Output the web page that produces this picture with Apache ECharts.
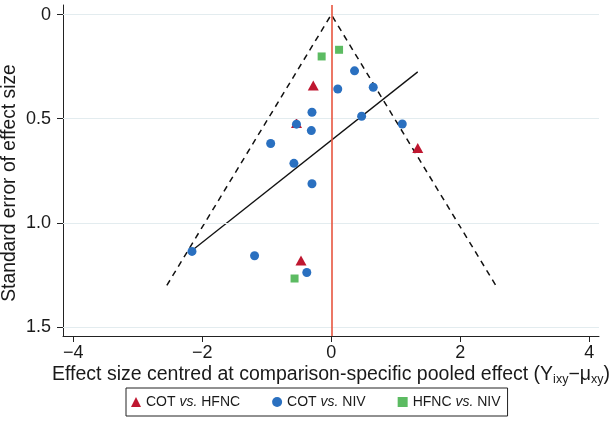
<!DOCTYPE html>
<html>
<head>
<meta charset="utf-8">
<script src="https://cdn.jsdelivr.net/npm/echarts@6/dist/echarts.min.js"></script>
<style>
html,body{margin:0;padding:0;background:#fff;}
#c{width:613px;height:421px;}
</style>
</head>
<body>
<div id="c"></div>
<script>
// ---- data ----
const xTicks = [-4, -2, 0, 2, 4];
const yTicks = [0, 0.5, 1.0, 1.5];
const seriesNames = ['COT vs. HFNC', 'COT vs. NIV', 'HFNC vs. NIV'];
const cotHfncX = [-0.54, -0.28, 1.34, -0.47];
const cotHfncY = [0.52, 0.34, 0.64, 1.18];
const cotNivX = [-0.54, -0.94, -0.58, 0.36, 0.10, 0.65, -0.30, 0.47, 1.10, -0.31, -0.30, -2.16, -1.19, -0.38];
const cotNivY = [0.526, 0.619, 0.714, 0.270, 0.357, 0.349, 0.469, 0.488, 0.525, 0.557, 0.812, 1.137, 1.158, 1.238];
const hfncNivX = [-0.15, 0.12, -0.57];
const hfncNivY = [0.201, 0.169, 1.267];
const funnelX = [-2.55, 0, 2.55];
const funnelY = [1.30, 0, 1.30];
const regX = [-2.16, 1.34];
const regY = [1.132, 0.275];
const refX = 0;

const FONT = "'Liberation Sans', Arial, Helvetica, sans-serif";
const zip = (xs, ys) => xs.map((x, i) => [x, ys[i]]);

const chart = echarts.init(document.getElementById('c'), null, {renderer: 'canvas'});
chart.setOption({
  animation: false,
  backgroundColor: '#fff',
  grid: {left: 63, right: 11, top: 5, bottom: 85, containLabel: false},
  xAxis: {
    type: 'value', min: -4.16, max: 4.15,
    axisLine: {show: true, onZero: false, lineStyle: {color: '#222', width: 1}},
    axisTick: {show: true, customValues: xTicks, length: 6, lineStyle: {color: '#222'}},
    axisLabel: {customValues: xTicks, fontSize: 18, color: '#1a1a1a', fontFamily: FONT, margin: 8,
      formatter: v => (v < 0 ? '\u2212' + Math.abs(v) : String(v))},
    splitLine: {show: false},
    name: 'Effect size centred at comparison-specific pooled effect (Y{s|ixy}\u2212\u03bc{s|xy})',
    nameLocation: 'middle', nameGap: 28, nameMoveOverlap: false,
    nameTextStyle: {fontSize: 19.5, color: '#1a1a1a', fontFamily: FONT, lineHeight: 22,
      rich: {s: {fontSize: 12.5, fontFamily: FONT, color: '#1a1a1a', verticalAlign: 'bottom', lineHeight: 22, padding: [7, 0, 0, 0]}}}
  },
  yAxis: {
    type: 'value', inverse: true, min: -0.046, max: 1.543,
    axisLine: {show: true, onZero: false, lineStyle: {color: '#222', width: 1}},
    axisTick: {show: true, customValues: yTicks, length: 6, lineStyle: {color: '#222'}},
    axisLabel: {customValues: yTicks, fontSize: 18, color: '#1a1a1a', fontFamily: FONT, margin: 12,
      formatter: v => (v === 0 ? '0' : v.toFixed(1))},
    splitLine: {show: false}
  },
  graphic: [{
    type: 'text', x: 10, y: 183, rotation: Math.PI / 2,
    style: {text: 'Standard error of effect size', fontSize: 19.3, fontFamily: FONT, fill: '#1a1a1a',
      align: 'center', verticalAlign: 'middle'}
  }],
  legend: {
    data: [
      {name: seriesNames[0], icon: 'triangle'},
      {name: seriesNames[1], icon: 'circle'},
      {name: seriesNames[2], icon: 'rect'}
    ],
    left: 126, top: 388, orient: 'horizontal',
    itemWidth: 10, itemHeight: 10, itemGap: 32,
    padding: [7, 7, 7, 5],
    borderColor: '#222', borderWidth: 1, borderRadius: 0,
    formatter: n => n.replace('vs.', '{i|vs.}'),
    itemStyle: {opacity: 1},
    textStyle: {fontSize: 14, color: '#1a1a1a', fontFamily: FONT,
      rich: {i: {fontSize: 14, fontStyle: 'italic', fontFamily: FONT, color: '#1a1a1a'}}}
  },
  series: [
    {
      type: 'line', data: [], z: 1, silent: true,
      markLine: {
        silent: true, symbol: 'none', label: {show: false},
        lineStyle: {color: '#e3ecef', type: 'solid', width: 1},
        data: yTicks.map(v => ({yAxis: v}))
      }
    },
    {
      type: 'line', data: [], z: 2, silent: true,
      markLine: {
        silent: true, symbol: 'none', label: {show: false},
        lineStyle: {color: '#e8553f', type: 'solid', width: 1.6},
        data: [{xAxis: refX}]
      }
    },
    {
      type: 'line', data: zip(funnelX, funnelY), z: 3, symbol: 'none', silent: true,
      lineStyle: {color: '#111', width: 1.5, type: [6, 5]}
    },
    {
      type: 'line', data: zip(regX, regY), z: 3, symbol: 'none', silent: true,
      lineStyle: {color: '#111', width: 1.3, type: 'solid'}
    },
    {
      name: seriesNames[0], type: 'scatter', data: zip(cotHfncX, cotHfncY), z: 4,
      symbol: 'triangle', symbolSize: [11, 10], itemStyle: {color: '#bf1730', opacity: 1}
    },
    {
      name: seriesNames[1], type: 'scatter', data: zip(cotNivX, cotNivY), z: 5,
      symbol: 'circle', symbolSize: 9, itemStyle: {color: '#2a70c0', opacity: 1}
    },
    {
      name: seriesNames[2], type: 'scatter', data: zip(hfncNivX, hfncNivY), z: 5,
      symbol: 'rect', symbolSize: 8, itemStyle: {color: '#5cbb62', opacity: 1}
    }
  ]
});
</script>
</body>
</html>
